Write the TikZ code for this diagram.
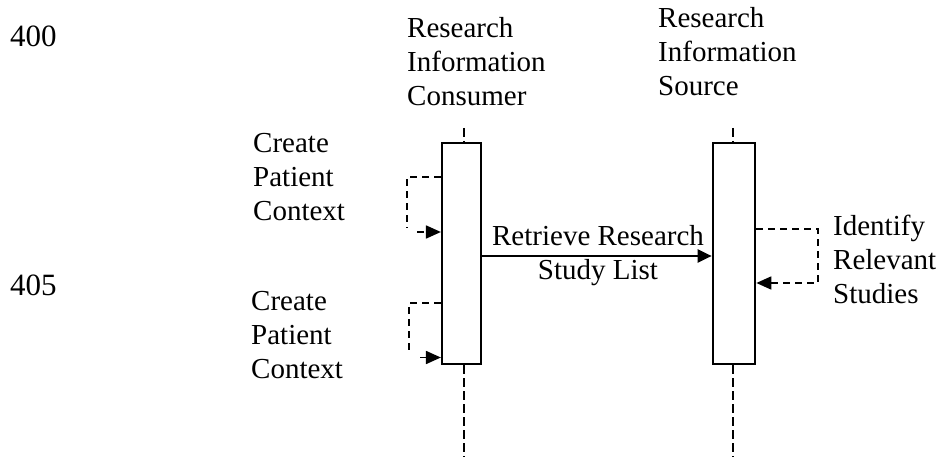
\documentclass[tikz,border=0pt]{standalone}
\usepackage{fontspec}
\setmainfont{Liberation Serif}
\usetikzlibrary{arrows.meta}
\newcommand\leftlines[1]{\begin{tabular}[t]{@{}l@{}}#1\end{tabular}}
\newcommand\midlines[1]{\begin{tabular}[t]{@{}c@{}}#1\end{tabular}}
\begin{document}
\begin{tikzpicture}[x=1pt,y=-1pt,
  every node/.style={inner sep=0pt, font=\fontsize{29}{34}\selectfont},
  lbl/.style={anchor=base west},
  refnum/.style={anchor=base west, font=\fontsize{31}{36}\selectfont},
  actbox/.style={draw, line width=2.2pt, fill=white, minimum width=#1, minimum height=221pt},
  lifeline/.style={line width=1.8pt, dash pattern=on 9pt off 4pt},
  msg/.style={line width=2.2pt, -{Triangle[length=14pt,width=13pt]}},
  selfmsg/.style={line width=1.8pt, dash pattern=on 7pt off 5pt},
  selfarrow/.style={selfmsg, -{Triangle[length=15pt,width=13pt]}},
]
\useasboundingbox (0,0) rectangle (940,457);

% reference numerals
\node[refnum] (t400) at (10,47) {400};
\node[refnum] (t405) at (10,295) {405};

% participants
\node[lbl] (consumer) at (407,38) {\leftlines{Research\\Information\\Consumer}};
\node[lbl] (source) at (658,28) {\leftlines{Research\\Information\\Source}};

% activation boxes
\node[actbox=39pt] (cbox) at (461.5,253.5) {};
\node[actbox=42.5pt] (sbox) at (734,253.5) {};

% lifelines
\coordinate (ctop) at (464,128);
\coordinate (cend) at (464,457);
\coordinate (stop) at (733,128);
\coordinate (send) at (733,457);
\draw[lifeline] (ctop) -- (ctop |- cbox.north);
\draw[lifeline] (cend |- cbox.south) -- (cend);
\draw[lifeline] (stop) -- (stop |- sbox.north);
\draw[lifeline] (send |- sbox.south) -- (send);

% first self call on the consumer
\node[lbl] (create1) at (253,153) {\leftlines{Create\\Patient\\Context}};
\coordinate (l1a) at (407,177);
\coordinate (l1b) at (407,228);
\coordinate (l1c) at (417,232);
\draw[selfmsg] (cbox.west |- l1a) -- (l1a) -- (l1b);
\draw[selfarrow] (l1c) -- (cbox.west |- l1c);

% second self call on the consumer
\node[lbl] (create2) at (251,310) {\leftlines{Create\\Patient\\Context}};
\coordinate (l2a) at (409,303);
\coordinate (l2b) at (409,353);
\coordinate (l2c) at (420,357.5);
\draw[selfmsg] (cbox.west |- l2a) -- (l2a) -- (l2b);
\draw[selfarrow] (l2c) -- (cbox.west |- l2c);

% request from consumer to source
\coordinate (m) at (0,256);
\draw[msg] (cbox.east |- m) -- (sbox.west |- m);
\node[anchor=base] (retrieve) at (598,246) {\midlines{Retrieve Research\\Study List}};

% self call on the source
\node[lbl] (identify) at (833,236) {\leftlines{Identify\\Relevant\\Studies}};
\coordinate (r1) at (818,229);
\coordinate (r2) at (818,283);
\draw[selfarrow] (sbox.east |- r1) -- (r1) -- (r2) -- (sbox.east |- r2);
\end{tikzpicture}
\end{document}
